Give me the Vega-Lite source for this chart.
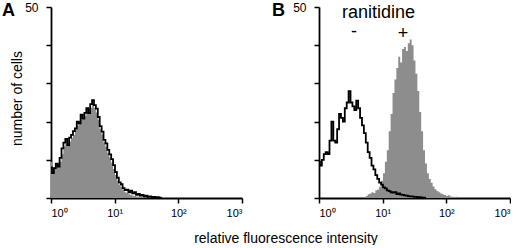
{
  "$schema": "https://vega.github.io/schema/vega-lite/v6.json",
  "padding": {"left": 2, "top": 1, "right": 0, "bottom": 0},
  "bounds": "flush",
  "spacing": 77,
  "background": "white",
  "config": {
    "view": {"stroke": null},
    "axis": {"domainColor": "black", "domainWidth": 1.8, "tickColor": "black", "tickWidth": 1.5, "tickSize": 5, "labelColor": "#000000", "labelFont": "Liberation Sans", "labelFontSize": 12, "titleFont": "Liberation Sans", "titleFontSize": 14, "titleFontWeight": "normal", "titleColor": "#000000", "grid": false},
    "title": {"font": "Liberation Sans", "fontSize": 18, "fontWeight": "bold", "color": "black", "anchor": "start", "frame": "group", "offset": 0}
  },
  "datasets": {
    "hist": [
      {"panel":"A","series":"k","lx":0,"n":8},{"panel":"A","series":"k","lx":0.03,"n":6.5},{"panel":"A","series":"k","lx":0.06,"n":7.8},{"panel":"A","series":"k","lx":0.09,"n":9},{"panel":"A","series":"k","lx":0.12,"n":8.2},{"panel":"A","series":"k","lx":0.15,"n":10.5},{"panel":"A","series":"k","lx":0.18,"n":13},{"panel":"A","series":"k","lx":0.21,"n":14.5},{"panel":"A","series":"k","lx":0.24,"n":15.5},{"panel":"A","series":"k","lx":0.27,"n":13.8},{"panel":"A","series":"k","lx":0.3,"n":15.8},{"panel":"A","series":"k","lx":0.33,"n":16.5},{"panel":"A","series":"k","lx":0.36,"n":17.5},{"panel":"A","series":"k","lx":0.39,"n":18.2},{"panel":"A","series":"k","lx":0.42,"n":20},{"panel":"A","series":"k","lx":0.45,"n":19.5},{"panel":"A","series":"k","lx":0.48,"n":21.8},{"panel":"A","series":"k","lx":0.51,"n":20.8},{"panel":"A","series":"k","lx":0.54,"n":22.3},{"panel":"A","series":"k","lx":0.57,"n":23.5},{"panel":"A","series":"k","lx":0.6,"n":22.2},{"panel":"A","series":"k","lx":0.63,"n":24.6},{"panel":"A","series":"k","lx":0.66,"n":25.6},{"panel":"A","series":"k","lx":0.69,"n":24.3},{"panel":"A","series":"k","lx":0.72,"n":23.4},{"panel":"A","series":"k","lx":0.75,"n":21.2},{"panel":"A","series":"k","lx":0.78,"n":18.8},{"panel":"A","series":"k","lx":0.81,"n":17.4},{"panel":"A","series":"k","lx":0.84,"n":15.2},{"panel":"A","series":"k","lx":0.87,"n":14.3},{"panel":"A","series":"k","lx":0.9,"n":12.6},{"panel":"A","series":"k","lx":0.93,"n":11.4},{"panel":"A","series":"k","lx":0.96,"n":10.2},{"panel":"A","series":"k","lx":0.99,"n":8.6},{"panel":"A","series":"k","lx":1.02,"n":6.8},{"panel":"A","series":"k","lx":1.05,"n":5.3},{"panel":"A","series":"k","lx":1.08,"n":4.1},{"panel":"A","series":"k","lx":1.11,"n":3.6},{"panel":"A","series":"k","lx":1.14,"n":2.6},{"panel":"A","series":"k","lx":1.17,"n":2.1},{"panel":"A","series":"k","lx":1.2,"n":2.2},{"panel":"A","series":"k","lx":1.23,"n":1.5},{"panel":"A","series":"k","lx":1.26,"n":1.9},{"panel":"A","series":"k","lx":1.29,"n":1.2},{"panel":"A","series":"k","lx":1.32,"n":1.5},{"panel":"A","series":"k","lx":1.35,"n":0.8},{"panel":"A","series":"k","lx":1.38,"n":1.1},{"panel":"A","series":"k","lx":1.41,"n":0.6},{"panel":"A","series":"k","lx":1.44,"n":0.8},{"panel":"A","series":"k","lx":1.47,"n":0.4},{"panel":"A","series":"k","lx":1.5,"n":0.6},{"panel":"A","series":"k","lx":1.53,"n":0.3},{"panel":"A","series":"k","lx":1.56,"n":0.4},{"panel":"A","series":"k","lx":1.59,"n":0.2},{"panel":"A","series":"k","lx":1.62,"n":0.3},{"panel":"A","series":"k","lx":1.65,"n":0.2},{"panel":"A","series":"k","lx":1.68,"n":0.2},{"panel":"A","series":"k","lx":1.71,"n":0.1},{"panel":"A","series":"k","lx":1.74,"n":0},
      {"panel":"A","series":"g","lx":0,"n":9.5},{"panel":"A","series":"g","lx":0.03,"n":7},{"panel":"A","series":"g","lx":0.06,"n":8},{"panel":"A","series":"g","lx":0.09,"n":8.5},{"panel":"A","series":"g","lx":0.12,"n":9},{"panel":"A","series":"g","lx":0.15,"n":9.5},{"panel":"A","series":"g","lx":0.18,"n":11.5},{"panel":"A","series":"g","lx":0.21,"n":13.5},{"panel":"A","series":"g","lx":0.24,"n":14.2},{"panel":"A","series":"g","lx":0.27,"n":13.5},{"panel":"A","series":"g","lx":0.3,"n":14.8},{"panel":"A","series":"g","lx":0.33,"n":15.8},{"panel":"A","series":"g","lx":0.36,"n":16.5},{"panel":"A","series":"g","lx":0.39,"n":17.8},{"panel":"A","series":"g","lx":0.42,"n":19},{"panel":"A","series":"g","lx":0.45,"n":19.2},{"panel":"A","series":"g","lx":0.48,"n":20.5},{"panel":"A","series":"g","lx":0.51,"n":20.6},{"panel":"A","series":"g","lx":0.54,"n":21.5},{"panel":"A","series":"g","lx":0.57,"n":22.5},{"panel":"A","series":"g","lx":0.6,"n":22},{"panel":"A","series":"g","lx":0.63,"n":23.6},{"panel":"A","series":"g","lx":0.66,"n":24.4},{"panel":"A","series":"g","lx":0.69,"n":23.6},{"panel":"A","series":"g","lx":0.72,"n":22.4},{"panel":"A","series":"g","lx":0.75,"n":20.5},{"panel":"A","series":"g","lx":0.78,"n":18},{"panel":"A","series":"g","lx":0.81,"n":16.6},{"panel":"A","series":"g","lx":0.84,"n":14.5},{"panel":"A","series":"g","lx":0.87,"n":13.4},{"panel":"A","series":"g","lx":0.9,"n":11.8},{"panel":"A","series":"g","lx":0.93,"n":10.6},{"panel":"A","series":"g","lx":0.96,"n":9.2},{"panel":"A","series":"g","lx":0.99,"n":7.6},{"panel":"A","series":"g","lx":1.02,"n":6},{"panel":"A","series":"g","lx":1.05,"n":4.6},{"panel":"A","series":"g","lx":1.08,"n":3.4},{"panel":"A","series":"g","lx":1.11,"n":2.8},{"panel":"A","series":"g","lx":1.14,"n":2},{"panel":"A","series":"g","lx":1.17,"n":1.5},{"panel":"A","series":"g","lx":1.2,"n":1.3},{"panel":"A","series":"g","lx":1.23,"n":1},{"panel":"A","series":"g","lx":1.26,"n":0.8},{"panel":"A","series":"g","lx":1.29,"n":0.6},{"panel":"A","series":"g","lx":1.32,"n":0.5},{"panel":"A","series":"g","lx":1.35,"n":0.4},{"panel":"A","series":"g","lx":1.38,"n":0.3},{"panel":"A","series":"g","lx":1.41,"n":0.3},{"panel":"A","series":"g","lx":1.44,"n":0.2},{"panel":"A","series":"g","lx":1.47,"n":0.2},{"panel":"A","series":"g","lx":1.5,"n":0.1},{"panel":"A","series":"g","lx":1.53,"n":0},
      {"panel":"B","series":"k","lx":0,"n":9.5},{"panel":"B","series":"k","lx":0.03,"n":8.5},{"panel":"B","series":"k","lx":0.06,"n":10},{"panel":"B","series":"k","lx":0.09,"n":11.5},{"panel":"B","series":"k","lx":0.12,"n":12},{"panel":"B","series":"k","lx":0.15,"n":11.5},{"panel":"B","series":"k","lx":0.18,"n":15},{"panel":"B","series":"k","lx":0.21,"n":20},{"panel":"B","series":"k","lx":0.24,"n":15},{"panel":"B","series":"k","lx":0.27,"n":14.5},{"panel":"B","series":"k","lx":0.3,"n":18},{"panel":"B","series":"k","lx":0.33,"n":22},{"panel":"B","series":"k","lx":0.36,"n":21},{"panel":"B","series":"k","lx":0.39,"n":20},{"panel":"B","series":"k","lx":0.42,"n":23.5},{"panel":"B","series":"k","lx":0.45,"n":25},{"panel":"B","series":"k","lx":0.48,"n":28},{"panel":"B","series":"k","lx":0.51,"n":25},{"panel":"B","series":"k","lx":0.54,"n":24},{"panel":"B","series":"k","lx":0.57,"n":23},{"panel":"B","series":"k","lx":0.6,"n":25.5},{"panel":"B","series":"k","lx":0.63,"n":23.5},{"panel":"B","series":"k","lx":0.66,"n":21},{"panel":"B","series":"k","lx":0.69,"n":19},{"panel":"B","series":"k","lx":0.72,"n":17},{"panel":"B","series":"k","lx":0.75,"n":14.5},{"panel":"B","series":"k","lx":0.78,"n":12},{"panel":"B","series":"k","lx":0.81,"n":10.5},{"panel":"B","series":"k","lx":0.84,"n":8.5},{"panel":"B","series":"k","lx":0.87,"n":7.5},{"panel":"B","series":"k","lx":0.9,"n":6},{"panel":"B","series":"k","lx":0.93,"n":5},{"panel":"B","series":"k","lx":0.96,"n":4},{"panel":"B","series":"k","lx":0.99,"n":3.5},{"panel":"B","series":"k","lx":1.02,"n":2.8},{"panel":"B","series":"k","lx":1.05,"n":2.5},{"panel":"B","series":"k","lx":1.08,"n":2},{"panel":"B","series":"k","lx":1.11,"n":1.8},{"panel":"B","series":"k","lx":1.14,"n":1.5},{"panel":"B","series":"k","lx":1.17,"n":1.4},{"panel":"B","series":"k","lx":1.2,"n":1.5},{"panel":"B","series":"k","lx":1.23,"n":1},{"panel":"B","series":"k","lx":1.26,"n":1.2},{"panel":"B","series":"k","lx":1.29,"n":0.9},{"panel":"B","series":"k","lx":1.32,"n":0.8},{"panel":"B","series":"k","lx":1.35,"n":0.7},{"panel":"B","series":"k","lx":1.38,"n":0.6},{"panel":"B","series":"k","lx":1.41,"n":0.5},{"panel":"B","series":"k","lx":1.44,"n":0.4},{"panel":"B","series":"k","lx":1.47,"n":0.4},{"panel":"B","series":"k","lx":1.5,"n":0.3},{"panel":"B","series":"k","lx":1.53,"n":0.3},{"panel":"B","series":"k","lx":1.56,"n":0.2},{"panel":"B","series":"k","lx":1.59,"n":0.2},{"panel":"B","series":"k","lx":1.62,"n":0.1},{"panel":"B","series":"k","lx":1.65,"n":0.1},{"panel":"B","series":"k","lx":1.68,"n":0},
      {"panel":"B","series":"g","lx":0.72,"n":0},{"panel":"B","series":"g","lx":0.75,"n":0.5},{"panel":"B","series":"g","lx":0.78,"n":1},{"panel":"B","series":"g","lx":0.81,"n":1.2},{"panel":"B","series":"g","lx":0.84,"n":1.5},{"panel":"B","series":"g","lx":0.87,"n":1.3},{"panel":"B","series":"g","lx":0.9,"n":2},{"panel":"B","series":"g","lx":0.93,"n":2.2},{"panel":"B","series":"g","lx":0.96,"n":3},{"panel":"B","series":"g","lx":0.99,"n":4.5},{"panel":"B","series":"g","lx":1.02,"n":6.5},{"panel":"B","series":"g","lx":1.05,"n":9.5},{"panel":"B","series":"g","lx":1.08,"n":12.5},{"panel":"B","series":"g","lx":1.11,"n":17.5},{"panel":"B","series":"g","lx":1.14,"n":22},{"panel":"B","series":"g","lx":1.17,"n":27.5},{"panel":"B","series":"g","lx":1.2,"n":31},{"panel":"B","series":"g","lx":1.23,"n":34},{"panel":"B","series":"g","lx":1.26,"n":37},{"panel":"B","series":"g","lx":1.29,"n":35.5},{"panel":"B","series":"g","lx":1.32,"n":39},{"panel":"B","series":"g","lx":1.35,"n":39.5},{"panel":"B","series":"g","lx":1.38,"n":38.5},{"panel":"B","series":"g","lx":1.41,"n":40.5},{"panel":"B","series":"g","lx":1.44,"n":41.5},{"panel":"B","series":"g","lx":1.47,"n":40},{"panel":"B","series":"g","lx":1.5,"n":36},{"panel":"B","series":"g","lx":1.53,"n":32.5},{"panel":"B","series":"g","lx":1.56,"n":28},{"panel":"B","series":"g","lx":1.59,"n":22.5},{"panel":"B","series":"g","lx":1.62,"n":17.5},{"panel":"B","series":"g","lx":1.65,"n":12.5},{"panel":"B","series":"g","lx":1.68,"n":9},{"panel":"B","series":"g","lx":1.71,"n":6.5},{"panel":"B","series":"g","lx":1.74,"n":5},{"panel":"B","series":"g","lx":1.77,"n":4},{"panel":"B","series":"g","lx":1.8,"n":3},{"panel":"B","series":"g","lx":1.83,"n":2.3},{"panel":"B","series":"g","lx":1.86,"n":1.8},{"panel":"B","series":"g","lx":1.89,"n":1.5},{"panel":"B","series":"g","lx":1.92,"n":1.2},{"panel":"B","series":"g","lx":1.95,"n":1},{"panel":"B","series":"g","lx":1.98,"n":0.8},{"panel":"B","series":"g","lx":2.01,"n":0.5},{"panel":"B","series":"g","lx":2.04,"n":0.7},{"panel":"B","series":"g","lx":2.07,"n":0.4},{"panel":"B","series":"g","lx":2.1,"n":0.3},{"panel":"B","series":"g","lx":2.13,"n":0.2},{"panel":"B","series":"g","lx":2.16,"n":0.3},{"panel":"B","series":"g","lx":2.19,"n":0}
    ],
    "labels": [
      {"lx": 0.934, "n": 47.1, "label": "ranitidine"},
      {"lx": 0.55, "n": 42.2, "label": "-"},
      {"lx": 1.32, "n": 41.6, "label": "+"}
    ]
  },
  "hconcat": [
    {
      "width": 191, "height": 191,
      "title": {"text": "A", "dx": -49, "dy": 23},
      "data": {"name": "hist"},
      "transform": [{"filter": "datum.panel === 'A'"}],
      "encoding": {
        "x": {"field": "lx", "type": "quantitative", "scale": {"domain": [0, 3], "nice": false, "zero": false},
              "axis": {"title": "relative fluorescence intensity", "titleX": 234.5, "titleY": 44, "titleBaseline": "alphabetic", "values": [0, 1, 2, 3], "labelPadding": 4, "labelFontSize": 11, "labelExpr": "'10' + ['⁰','¹','²','³'][datum.value]"}},
        "y": {"field": "n", "type": "quantitative", "scale": {"domain": [0, 50], "nice": false},
              "axis": {"title": "number of cells", "titleX": -30, "titleY": 91, "titleBaseline": "alphabetic", "values": [0, 10, 20, 30, 40, 50], "labelPadding": 8, "labelExpr": "datum.value == 50 ? '50' : ''"}}
      },
      "layer": [
        {"transform": [{"filter": "datum.series === 'g'"}], "mark": {"type": "area", "interpolate": "step", "color": "#8d8d8d"}},
        {"transform": [{"filter": "datum.series === 'k'"}], "mark": {"type": "line", "interpolate": "step", "color": "black", "strokeWidth": 1.8}}
      ]
    },
    {
      "width": 191, "height": 191,
      "title": {"text": "B", "dx": -47, "dy": 23},
      "encoding": {
        "x": {"field": "lx", "type": "quantitative", "scale": {"domain": [0, 3], "nice": false, "zero": false},
              "axis": {"title": null, "values": [0, 1, 2, 3], "labelPadding": 4, "labelFontSize": 11, "labelExpr": "'10' + ['⁰','¹','²','³'][datum.value]"}},
        "y": {"field": "n", "type": "quantitative", "scale": {"domain": [0, 50], "nice": false},
              "axis": {"title": null, "values": [0, 10, 20, 30, 40, 50], "labelPadding": 8, "labelExpr": "datum.value == 50 ? '50' : ''"}}
      },
      "layer": [
        {"data": {"name": "hist"}, "transform": [{"filter": "datum.panel === 'B' && datum.series === 'g'"}], "mark": {"type": "area", "interpolate": "step", "color": "#8d8d8d"}},
        {"data": {"name": "hist"}, "transform": [{"filter": "datum.panel === 'B' && datum.series === 'k'"}], "mark": {"type": "line", "interpolate": "step", "color": "black", "strokeWidth": 1.8}},
        {"data": {"name": "labels"}, "mark": {"type": "text", "font": "Liberation Sans", "fontSize": 18, "baseline": "alphabetic", "align": "center", "color": "black"},
         "encoding": {"text": {"field": "label"}}}
      ]
    }
  ]
}
